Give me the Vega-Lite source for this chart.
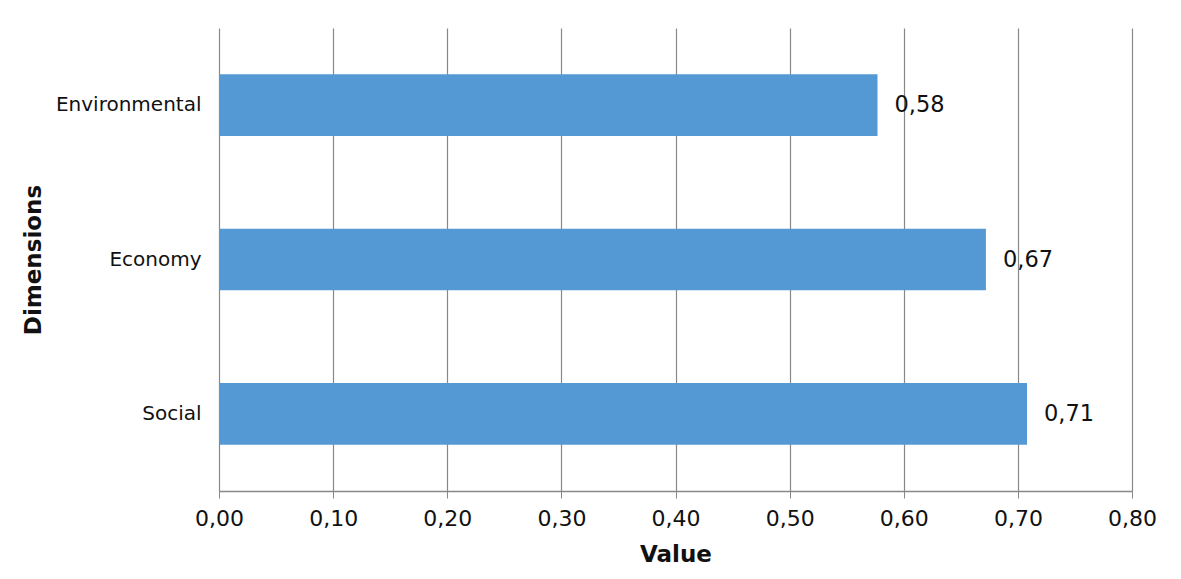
{
  "$schema": "https://vega.github.io/schema/vega-lite/v6.json",
  "width": 913,
  "height": 463,
  "autosize": {"type": "none"},
  "padding": {"left": 219, "top": 28, "right": 49, "bottom": 88},
  "background": "white",
  "config": {
    "locale": {"number": {"decimal": ",", "thousands": ".", "grouping": [3], "currency": ["", "€"]}},
    "font": "DejaVu Sans",
    "view": {"stroke": null}
  },
  "data": {
    "values": [
      {"dimension": "Environmental", "value": 0.577},
      {"dimension": "Economy", "value": 0.672},
      {"dimension": "Social", "value": 0.708}
    ]
  },
  "encoding": {
    "y": {
      "field": "dimension",
      "type": "nominal",
      "sort": ["Environmental", "Economy", "Social"],
      "scale": {"paddingInner": 0.6, "paddingOuter": 0.3},
      "axis": {
        "title": "Dimensions",
        "titleFont": "DejaVu Sans",
        "titleFontSize": 23,
        "titleFontWeight": "bold",
        "titleColor": "#111",
        "titlePadding": 10,
        "labelFontSize": 20,
        "labelColor": "#111",
        "labelPadding": 18,
        "ticks": false,
        "domain": false,
        "grid": false
      }
    },
    "x": {
      "field": "value",
      "type": "quantitative",
      "scale": {"domain": [0, 0.8], "nice": false},
      "axis": {
        "title": "Value",
        "format": ".2f",
        "values": [0, 0.1, 0.2, 0.3, 0.4, 0.5, 0.6, 0.7, 0.8],
        "titleFontSize": 23,
        "titleFontWeight": "bold",
        "titleColor": "#111",
        "titlePadding": 14,
        "labelFontSize": 22,
        "labelColor": "#111",
        "labelPadding": 10,
        "labelFlush": false,
        "labelOverlap": false,
        "tickSize": 7,
        "tickColor": "#888",
        "domainColor": "#888",
        "domainWidth": 1.5,
        "gridColor": "#888",
        "gridOpacity": 1,
        "gridWidth": 1.2
      }
    }
  },
  "layer": [
    {"mark": {"type": "bar", "color": "#5499D3"}},
    {
      "mark": {"type": "text", "align": "left", "baseline": "middle", "dx": 17, "fontSize": 22.5, "color": "#111"},
      "encoding": {"text": {"field": "value", "type": "quantitative", "format": ".2f"}}
    }
  ]
}
